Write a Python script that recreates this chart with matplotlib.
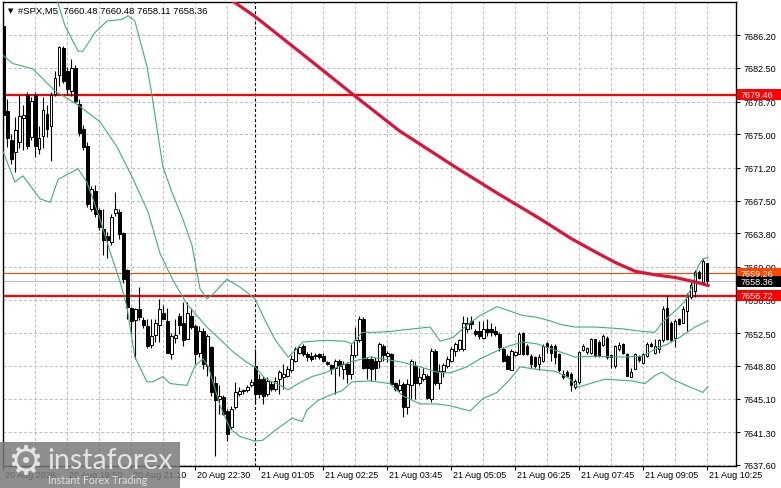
import matplotlib
matplotlib.use('Agg')
import matplotlib.pyplot as plt
import matplotlib.transforms as mtransforms
from matplotlib.patches import Rectangle

plt.rcParams['font.family'] = ['Liberation Sans', 'DejaVu Sans']
plt.rcParams['lines.scale_dashes'] = False

# ---------------- data ----------------
opens = [7687.3, 7677.6, 7674.3, 7673.0, 7674.1, 7676.8, 7679.4, 7674.7, 7679.4, 7673.3,
         7674.8, 7677.3, 7675.9, 7679.6, 7681.7, 7684.8, 7682.2, 7679.9, 7682.5, 7678.4,
         7675.6, 7673.7, 7666.5, 7668.6, 7666.4, 7664.3, 7663.5, 7662.8, 7666.1, 7666.2,
         7663.8, 7659.6, 7655.3, 7654.0, 7655.2, 7654.0, 7653.3, 7651.2, 7652.3, 7653.4,
         7654.8, 7653.9, 7650.2, 7652.0, 7654.5, 7653.7, 7651.9, 7654.5, 7653.3, 7650.3,
         7652.8, 7648.8, 7650.9, 7646.9, 7645.1, 7645.3, 7643.7, 7641.9, 7644.1, 7645.6,
         7646.0, 7646.1, 7646.6, 7648.8, 7647.3, 7647.3, 7645.6, 7646.75, 7646.2, 7647.3,
         7647.5, 7647.7, 7648.3, 7649.4, 7650.3, 7651.1, 7650.15, 7649.95, 7650.0, 7650.15,
         7649.95, 7649.3, 7648.9, 7648.6, 7649.4, 7648.45, 7649.0, 7647.9, 7650.0, 7651.7,
         7654.1, 7649.6, 7649.6, 7649.4, 7649.4, 7651.1, 7649.9, 7650.15, 7646.9, 7646.1,
         7646.75, 7644.1, 7646.6, 7648.8, 7646.9, 7647.3, 7647.7, 7645.05, 7650.5, 7646.9,
         7648.2, 7648.8, 7649.4, 7650.5, 7650.7, 7650.7, 7653.0, 7653.9, 7652.8, 7652.7,
         7652.0, 7653.0, 7653.0, 7652.8, 7652.4, 7650.7, 7649.95, 7648.3, 7650.0, 7650.15,
         7652.5, 7651.1, 7649.95, 7649.8, 7649.0, 7649.4, 7651.4, 7651.1, 7651.0, 7650.15,
         7647.9, 7648.1, 7647.9, 7646.4, 7646.95, 7650.6, 7650.4, 7650.3, 7651.8, 7651.55,
         7651.2, 7652.0, 7650.0, 7648.8, 7650.7, 7651.3, 7650.15, 7647.6, 7648.5, 7649.95,
         7649.1, 7649.95, 7651.3, 7650.3, 7650.7, 7651.7, 7655.4, 7653.7, 7652.0, 7654.1,
         7653.7, 7655.05, 7656.6, 7657.3, 7659.4, 7658.3, 7660.48]
highs = [7688.2, 7679.0, 7675.0, 7676.9, 7679.4, 7678.3, 7679.8, 7679.2, 7679.8, 7675.9,
         7679.2, 7678.3, 7679.8, 7682.2, 7685.0, 7685.0, 7682.6, 7683.5, 7682.8, 7679.0,
         7676.0, 7674.1, 7669.2, 7669.3, 7666.7, 7666.5, 7663.9, 7666.0, 7668.5, 7666.6,
         7664.0, 7659.8, 7655.5, 7655.4, 7657.7, 7654.3, 7654.1, 7654.1, 7654.1, 7656.4,
         7655.7, 7655.4, 7652.5, 7654.1, 7654.8, 7656.0, 7656.0, 7655.4, 7653.5, 7653.3,
         7653.1, 7652.4, 7651.1, 7647.7, 7646.6, 7645.5, 7643.9, 7644.3, 7646.95, 7646.4,
         7646.2, 7646.6, 7647.3, 7650.7, 7647.9, 7647.7, 7647.6, 7647.1, 7647.5, 7648.3,
         7649.0, 7648.8, 7650.0, 7650.9, 7651.1, 7651.3, 7650.35, 7650.4, 7650.3, 7650.3,
         7650.3, 7649.4, 7649.0, 7649.6, 7649.6, 7649.4, 7649.2, 7651.3, 7653.2, 7654.5,
         7654.3, 7649.8, 7649.9, 7649.8, 7651.5, 7651.3, 7650.5, 7650.3, 7646.95, 7647.3,
         7646.95, 7647.3, 7649.6, 7649.4, 7648.6, 7648.6, 7647.9, 7650.8, 7650.7, 7649.0,
         7649.1, 7649.95, 7650.9, 7651.5, 7651.85, 7654.5, 7654.3, 7654.5, 7653.0, 7653.9,
         7653.9, 7654.1, 7653.7, 7653.35, 7652.6, 7650.9, 7650.15, 7650.7, 7650.5, 7652.6,
         7652.6, 7651.3, 7650.15, 7649.95, 7650.15, 7651.3, 7651.5, 7651.3, 7651.3, 7650.3,
         7648.3, 7648.3, 7648.1, 7647.3, 7650.5, 7651.3, 7650.9, 7652.0, 7651.85, 7651.7,
         7652.4, 7652.2, 7650.15, 7651.2, 7651.5, 7651.4, 7650.3, 7648.6, 7650.3, 7650.05,
         7650.3, 7651.5, 7651.5, 7651.85, 7651.85, 7655.6, 7656.75, 7653.9, 7654.1, 7654.2,
         7655.6, 7657.1, 7658.3, 7659.6, 7659.6, 7660.9, 7660.48]
lows = [7676.5, 7673.6, 7671.6, 7670.7, 7673.5, 7673.2, 7673.3, 7674.3, 7672.4, 7672.8,
        7673.5, 7674.7, 7672.0, 7679.3, 7680.5, 7680.8, 7679.5, 7679.3, 7678.5, 7674.8,
        7673.2, 7666.8, 7666.3, 7665.6, 7664.2, 7661.3, 7661.0, 7662.5, 7665.8, 7663.2,
        7658.2, 7654.1, 7652.3, 7649.6, 7654.0, 7653.1, 7650.8, 7650.8, 7651.5, 7651.5,
        7654.1, 7650.3, 7649.6, 7651.4, 7652.4, 7651.0, 7651.9, 7653.0, 7649.0, 7649.8,
        7648.5, 7647.7, 7645.4, 7638.65, 7643.4, 7643.2, 7640.3, 7641.7, 7643.9, 7645.4,
        7645.6, 7645.8, 7646.4, 7644.5, 7645.2, 7644.5, 7645.4, 7646.0, 7646.0, 7645.6,
        7646.2, 7647.5, 7648.1, 7649.2, 7650.1, 7649.95, 7649.4, 7649.4, 7649.6, 7649.6,
        7649.2, 7648.9, 7647.9, 7645.6, 7647.7, 7647.3, 7646.9, 7647.3, 7649.8, 7651.5,
        7648.45, 7647.3, 7647.1, 7647.2, 7648.6, 7649.4, 7649.2, 7646.6, 7646.0, 7645.8,
        7643.0, 7643.4, 7645.05, 7645.05, 7646.6, 7647.1, 7645.05, 7644.7, 7646.6, 7646.2,
        7647.6, 7648.6, 7649.2, 7649.95, 7650.5, 7650.5, 7652.6, 7653.0, 7652.2, 7651.85,
        7651.85, 7652.2, 7652.2, 7652.2, 7650.5, 7649.2, 7648.45, 7648.3, 7649.95, 7650.15,
        7650.0, 7650.0, 7648.6, 7648.6, 7648.3, 7649.2, 7650.3, 7649.4, 7649.0, 7648.1,
        7647.3, 7647.5, 7646.0, 7646.2, 7646.8, 7650.5, 7650.2, 7650.15, 7649.8, 7649.8,
        7651.1, 7649.6, 7648.6, 7648.6, 7650.5, 7650.15, 7647.7, 7647.5, 7648.4, 7649.2,
        7649.0, 7649.8, 7650.9, 7650.15, 7650.3, 7651.5, 7651.7, 7651.5, 7650.9, 7653.4,
        7653.6, 7652.8, 7656.4, 7656.6, 7658.6, 7658.1, 7658.11]
closes = [7677.2, 7674.6, 7672.2, 7675.5, 7677.1, 7677.2, 7673.7, 7678.8, 7673.7, 7674.6,
          7677.7, 7675.6, 7679.4, 7681.4, 7684.9, 7681.0, 7680.1, 7682.5, 7678.8, 7675.2,
          7673.6, 7667.1, 7668.8, 7666.0, 7664.5, 7663.0, 7663.0, 7665.7, 7666.5, 7663.7,
          7658.6, 7655.5, 7653.9, 7655.2, 7654.3, 7653.4, 7651.0, 7652.2, 7653.6, 7655.2,
          7654.1, 7650.3, 7652.2, 7652.3, 7653.4, 7651.7, 7654.8, 7653.2, 7650.2, 7652.8,
          7649.0, 7652.2, 7645.8, 7644.9, 7645.4, 7643.4, 7641.1, 7643.9, 7645.8, 7646.0,
          7646.0, 7646.4, 7647.0, 7645.6, 7645.6, 7645.4, 7647.1, 7646.2, 7647.1, 7648.1,
          7647.9, 7648.45, 7649.6, 7650.7, 7650.9, 7650.15, 7649.8, 7649.6, 7649.9, 7649.8,
          7649.4, 7649.0, 7648.45, 7649.4, 7648.75, 7649.0, 7647.9, 7650.0, 7651.7, 7654.1,
          7648.6, 7648.6, 7648.5, 7648.6, 7651.3, 7650.0, 7650.3, 7646.75, 7646.2, 7646.6,
          7644.2, 7646.75, 7649.4, 7646.9, 7647.5, 7647.9, 7645.2, 7650.5, 7646.9, 7648.2,
          7648.9, 7649.6, 7650.7, 7651.3, 7651.7, 7653.7, 7653.7, 7653.5, 7652.4, 7652.2,
          7653.0, 7652.6, 7652.6, 7652.4, 7650.9, 7649.4, 7648.45, 7650.5, 7650.4, 7652.4,
          7650.15, 7650.15, 7649.0, 7648.8, 7649.8, 7651.1, 7650.9, 7650.3, 7649.8, 7648.3,
          7647.5, 7647.7, 7646.6, 7647.1, 7650.4, 7651.1, 7650.8, 7651.85, 7649.95, 7649.95,
          7652.2, 7649.8, 7649.8, 7651.1, 7651.2, 7650.3, 7647.7, 7648.15, 7650.15, 7649.5,
          7650.15, 7651.3, 7651.1, 7651.1, 7651.7, 7655.2, 7651.85, 7651.7, 7653.9, 7653.5,
          7655.2, 7656.6, 7657.9, 7659.4, 7658.8, 7660.7, 7658.36]

# Bollinger bands, sampled along the bar axis
bb_up_bar = [11.7, 13.7, 15.4, 18.7, 19.9, 22.9, 25.9, 29.7, 31.2, 32.9, 35.9, 37.2, 39.9,
             42.2, 44.9, 47.2, 48.4, 49.2, 50.9, 52.4, 55.9, 59.2, 62.9, 65.4, 67.9, 71.2,
             72.9, 74.9, 80.4, 85.4, 87.2, 89.7, 92.9, 96.7, 106.7, 109.2, 112.4, 115.9,
             119.2, 123.4, 126.7, 129.9, 133.4, 136.7, 139.2, 142.9, 147.9, 154.7, 159.7,
             162.9, 164.7, 167.9, 170.4, 172.2, 173.7, 174.9, 176.2]
bb_up_val = [7692.0, 7689.8, 7687.3, 7684.4, 7684.4, 7686.5, 7687.8, 7688.0, 7688.4, 7687.8,
             7682.7, 7679.3, 7671.3, 7668.4, 7665.4, 7662.4, 7659.4, 7657.5, 7656.4, 7656.9,
             7658.6, 7657.7, 7656.4, 7654.0, 7651.8, 7649.8, 7650.5, 7651.5, 7651.7, 7651.6,
             7651.3, 7652.6, 7652.6, 7652.7, 7653.2, 7651.6, 7652.0, 7653.4, 7654.5, 7655.5,
             7655.0, 7654.5, 7654.3, 7653.9, 7653.5, 7653.2, 7653.2, 7653.0, 7652.7, 7652.6,
             7653.7, 7655.0, 7656.1, 7657.8, 7660.1, 7660.9, 7661.1]
bb_mid_bar = [0.0, 2.4, 7.4, 12.9, 18.4, 24.2, 28.4, 32.4, 36.2, 39.2, 42.4, 45.9, 48.4,
              50.9, 54.2, 57.4, 60.9, 62.9, 65.4, 69.7, 71.2, 73.7, 77.2, 80.4, 83.7, 87.2,
              91.7, 94.9, 99.9, 104.2, 108.4, 111.7, 115.9, 119.2, 123.4, 126.7, 129.9,
              133.4, 137.9, 142.9, 147.9, 154.7, 159.7, 162.9, 166.2, 169.7, 172.9, 176.2]
bb_mid_val = [7683.9, 7683.0, 7682.4, 7679.9, 7678.4, 7676.4, 7673.6, 7670.0, 7666.2, 7661.5,
              7658.5, 7655.8, 7654.5, 7653.2, 7651.8, 7650.4, 7649.2, 7648.7, 7647.4, 7646.5,
              7646.1, 7646.8, 7647.6, 7648.0, 7648.7, 7649.3, 7649.8, 7649.6, 7649.2, 7648.7,
              7648.1, 7648.0, 7648.7, 7649.6, 7650.5, 7651.1, 7651.5, 7651.3, 7650.6, 7649.8,
              7649.9, 7649.8, 7649.9, 7650.7, 7651.3, 7652.2, 7653.2, 7653.9]
bb_low_bar = [0.0, 2.9, 4.9, 9.2, 11.7, 13.7, 18.7, 20.9, 24.2, 26.7, 29.2, 30.9, 32.9,
              35.9, 37.4, 39.9, 41.7, 45.9, 47.9, 49.9, 51.2, 52.4, 54.2, 56.7, 59.2, 62.9,
              64.9, 67.9, 70.4, 72.2, 74.7, 75.9, 78.7, 82.2, 84.7, 87.2, 91.7, 96.7, 99.9,
              104.2, 108.4, 111.7, 116.7, 119.9, 123.4, 126.7, 129.2, 133.4, 137.9, 141.2,
              143.7, 150.4, 157.2, 160.4, 162.9, 164.7, 167.2, 171.2, 174.9, 176.2]
bb_low_val = [7673.0, 7669.6, 7670.3, 7667.7, 7667.3, 7669.9, 7671.1, 7669.6, 7665.4, 7661.7,
              7658.3, 7655.5, 7649.8, 7647.0, 7647.0, 7647.6, 7646.8, 7646.6, 7648.8, 7649.6,
              7648.8, 7647.0, 7644.3, 7641.7, 7640.8, 7640.3, 7640.4, 7641.5, 7642.3, 7642.9,
              7642.5, 7643.8, 7644.9, 7645.6, 7646.0, 7647.0, 7647.1, 7646.8, 7645.4, 7644.5,
              7644.5, 7644.3, 7643.7, 7645.1, 7645.8, 7647.3, 7648.7, 7648.4, 7648.2, 7647.5,
              7646.4, 7647.3, 7647.1, 7646.8, 7647.7, 7648.1, 7647.3, 7646.5, 7645.8, 7646.5]

# moving average (thick crimson line)
ma_bar = [56.0, 63.0, 75.0, 88.0, 99.0, 113.0, 124.0, 134.0, 142.0, 148.0, 153.0, 158.0,
          163.0, 168.0, 173.0, 176.2]
ma_val = [7690.5, 7688.3, 7684.0, 7679.3, 7675.4, 7671.3, 7668.2, 7665.5, 7663.2, 7661.7,
          7660.5, 7659.5, 7659.1, 7658.8, 7658.3, 7657.9]

# horizontal levels
level_support = 7656.72
level_resist = 7679.46
level_ask = 7659.26
level_bid = 7658.36

y_ticks = [7637.60, 7641.30, 7645.10, 7648.80, 7652.50, 7656.30, 7660.00, 7663.80,
           7667.50, 7671.20, 7675.00, 7678.70, 7682.50, 7686.20]
x_label_bars = [0, 16, 32, 48, 64, 80, 96, 112, 128, 144, 160, 176]
x_labels = ['20 Aug 2026', '20 Aug 19:50', '20 Aug 21:10', '20 Aug 22:30', '21 Aug 01:05',
            '21 Aug 02:25', '21 Aug 03:45', '21 Aug 05:05', '21 Aug 06:25', '21 Aug 07:45',
            '21 Aug 09:05', '21 Aug 10:25']
separator_bar = 63
title_text = '#SPX,M5  7660.48 7660.48 7658.11 7658.36'

# ---------------- figure ----------------
W, H = 781, 489
fig = plt.figure(figsize=(W / 100, H / 100), dpi=100)
fig.patch.set_facecolor('white')
ax_l, ax_r, ax_t, ax_b = 2.5, 735.5, 2.5, 467.0
ax = fig.add_axes([ax_l / W, (H - ax_b) / H, (ax_r - ax_l) / W, (ax_b - ax_t) / H])
ax.set_facecolor('white')
ax.set_xlim(-0.2, 183.05)
ax.set_ylim(7637.48, 7690.02)

grid_kw = dict(color='#c0c0c0', lw=0.75, ls=(0, (2.2, 1.5)), zorder=1)
for t in y_ticks:
    ax.axhline(t, **grid_kw)
for g in range(8, 184, 8):
    if g != 64:
        ax.axvline(g, **grid_kw)
ax.axvline(separator_bar, color='black', lw=0.8, ls=(0, (2.2, 1.5)), zorder=1.5)

# level lines
ax.axhline(level_resist, color='#ff0000', lw=1.6, zorder=2)
ax.axhline(level_support, color='#ff0000', lw=1.6, zorder=2)
ax.axhline(level_ask, color='#ff4500', lw=0.8, zorder=2)
ax.axhline(level_bid, color='#c0c0c0', lw=0.8, zorder=2)

# candles
xs = list(range(len(opens)))
ax.vlines(xs, lows, highs, color='black', lw=0.8, zorder=3)
bottoms = [min(o, c) for o, c in zip(opens, closes)]
heights = [max(abs(c - o), 0.06) for o, c in zip(opens, closes)]
fcs = ['white' if c >= o else 'black' for o, c in zip(opens, closes)]
ax.bar(xs, heights, bottom=bottoms, width=0.6, color=fcs, edgecolor='black',
       linewidth=0.7, zorder=3.2)

# bands and MA
band_c = '#3cb371'
ax.plot(bb_up_bar, bb_up_val, color=band_c, lw=0.8, zorder=3.5)
ax.plot(bb_mid_bar, bb_mid_val, color=band_c, lw=0.8, zorder=3.5)
ax.plot(bb_low_bar, bb_low_val, color=band_c, lw=0.8, zorder=3.5)
ax.plot(ma_bar, ma_val, color='#dc143c', lw=2.3, zorder=4, solid_joinstyle='round')

# axes styling
for s in ax.spines.values():
    s.set_color('black')
    s.set_linewidth(1.0)
ax.set_yticks(y_ticks)
ax.set_yticklabels(['%.2f' % t for t in y_ticks])
ax.yaxis.tick_right()
ax.tick_params(axis='y', direction='out', length=3, width=0.8, pad=2.5,
               labelsize=6.5, colors='black')
ax.set_xticks(x_label_bars)
ax.set_xticklabels([])
ax.tick_params(axis='x', direction='out', length=3, width=0.8)

off = mtransforms.ScaledTranslation(2 / 100, -4.5 / 100, fig.dpi_scale_trans)
xtrans = mtransforms.blended_transform_factory(ax.transData, ax.transAxes) + off
for b, lab in zip(x_label_bars, x_labels):
    ax.text(b, 0, lab, transform=xtrans, ha='left', va='top', fontsize=6.5,
            color='black', clip_on=False)

# right-side price boxes
btrans = mtransforms.blended_transform_factory(fig.transFigure, ax.transData)
box_h = 11 / 8.84
for price, col in [(level_resist, '#ff0000'), (level_ask, '#ff4500'),
                   (level_support, '#ff0000'), (level_bid, '#000000')]:
    ax.add_patch(Rectangle((737 / W, price - box_h / 2), (W - 737) / W, box_h,
                           transform=btrans, facecolor=col, edgecolor='none',
                           clip_on=False, zorder=5))
    ax.text(740.5 / W, price, '%.2f' % price, transform=btrans, color='white',
            fontsize=6.5, ha='left', va='center', clip_on=False, zorder=6)

# title
fig.text(8 / W, 1 - 11 / H, '\u25bc', family='DejaVu Sans', fontsize=5,
         va='center', ha='left', color='black')
fig.text(18 / W, 1 - 11 / H, title_text, fontsize=6.8, va='center', ha='left',
         color='black')

# watermark logo
fig.add_artist(Rectangle((0, 0), 180 / W, 46 / H, transform=fig.transFigure,
                         facecolor='#7a7a7a', alpha=0.85, edgecolor='none', zorder=10))
fig.text(25 / W, 1 - 463 / H, '\u2699', family='DejaVu Sans', fontsize=29,
         color='#e4e4e4', ha='center', va='center', zorder=11)
fig.text(47 / W, 1 - 469 / H, 'instaforex', family=['Lato', 'DejaVu Sans'],
         fontsize=20.5, color='#e4e4e4', ha='left', va='baseline', zorder=11)
fig.text(48 / W, 1 - 481 / H, 'Instant Forex Trading', family=['Lato', 'DejaVu Sans'],
         fontsize=7.6, color='#e0e0e0', ha='left', va='center', zorder=11)

fig.savefig('out.png', dpi=100, facecolor='white')
